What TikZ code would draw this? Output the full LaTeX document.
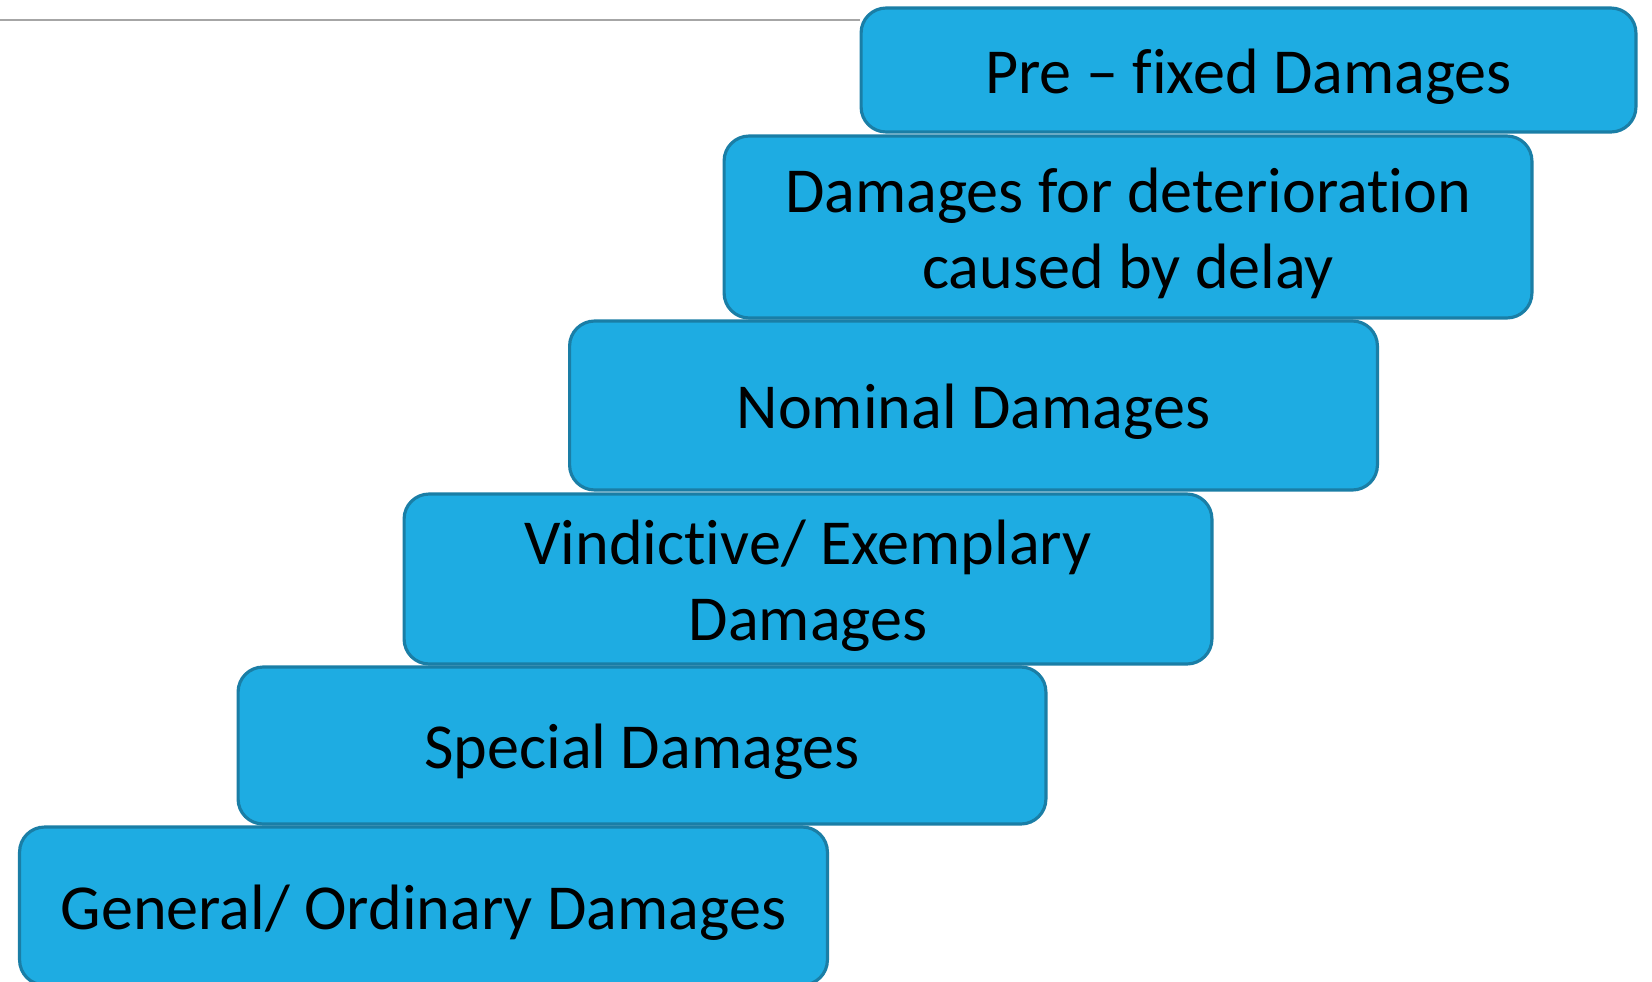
\documentclass[tikz,border=0pt]{standalone}
\usepackage{fontspec}
\setmainfont{Carlito}[Ligatures=NoCommon]
\definecolor{stepfill}{HTML}{1EACE2}
\definecolor{stepedge}{HTML}{1A7EA6}
\definecolor{rulegray}{HTML}{A6A6A6}
\tikzset{
  damage/.style={draw=stepedge,fill=stepfill,line width=1.8pt,rounded corners=0.5cm,
    minimum width=16.16cm,inner sep=0pt},
  damage text/.style={align=center,inner sep=0pt,yshift=-0.13cm,
    font=\fontsize{36.5}{43.5}\selectfont},
}
\begin{document}
\begin{tikzpicture}[x=0.02cm,y=-0.02cm]
\useasboundingbox (0,0) rectangle (1652,981);
\node[damage,minimum width=15.5cm,minimum height=2.48cm,
  label={[damage text,name=prefixed text]center:Pre -- fixed Damages}] (prefixed) at (1248.5,70) {};
\node[damage,minimum height=3.64cm,
  label={[damage text,name=delay text]center:Damages for deterioration\\caused by delay}] (delay) at (1128,227) {};
\node[damage,minimum height=3.38cm,
  label={[damage text,name=nominal text]center:Nominal Damages}] (nominal) at (973.5,405.5) {};
\node[damage,minimum height=3.4cm,
  label={[damage text,name=vindictive text]center:Vindictive/ Exemplary\\Damages}] (vindictive) at (808,579) {};
\node[damage,minimum height=3.14cm,
  label={[damage text,name=special text]center:Special Damages}] (special) at (642,745.5) {};
\node[damage,minimum height=3.16cm,
  label={[damage text,name=general text]center:General/ Ordinary Damages}] (general) at (423.5,906) {};
\coordinate (rulestart) at (0,20);
\draw[rulegray,line width=1.1pt] (rulestart) -- (rulestart -| prefixed.west);
\end{tikzpicture}
\end{document}
